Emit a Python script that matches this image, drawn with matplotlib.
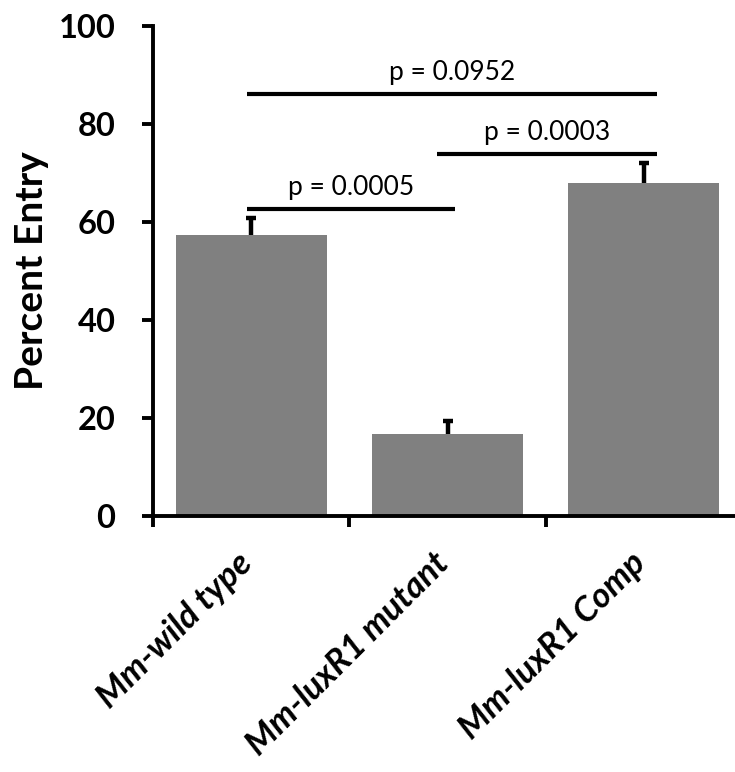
import matplotlib
matplotlib.use("Agg")
import matplotlib.pyplot as plt
from matplotlib.ticker import FixedLocator, NullFormatter
from matplotlib.transforms import ScaledTranslation

plt.rcParams['font.family'] = ['Lato', 'DejaVu Sans']

categories = ["Mm-wild type", "Mm-luxR1 mutant", "Mm-luxR1 Comp"]
values = [57.3, 16.7, 68.0]
errors = [3.5, 2.7, 4.0]
y_ticks = [0, 20, 40, 60, 80, 100]

# significance brackets: (x start, x end, height, label)
bracket_x0 = [-0.02, 0.945, -0.02]
bracket_x1 = [1.037, 2.065, 2.065]
bracket_y = [62.7, 73.9, 86.1]
bracket_labels = ["p = 0.0005", "p = 0.0003", "p = 0.0952"]

W, H = 735, 772
fig = plt.figure(figsize=(W / 100, H / 100), dpi=100)
ax = fig.add_axes([153 / W, 1 - 516 / H, (742 - 153) / W, (516 - 26) / H])

x = list(range(len(categories)))
tops = [v + e for v, e in zip(values, errors)]
ax.bar(x, values, width=0.77, color="#808080", edgecolor="none", zorder=2)
# upper-only error bars with a single cap
ax.vlines(x, values, tops, colors="black", lw=3.2, zorder=3)
ax.plot(x, tops, linestyle="none", marker="_", markersize=7,
        markeredgewidth=3.2, color="black", zorder=3)

for x0, x1, yb, lab in zip(bracket_x0, bracket_x1, bracket_y, bracket_labels):
    ax.plot([x0, x1], [yb, yb], color="black", lw=3, solid_capstyle="butt",
            clip_on=False)
    ax.text((x0 + x1) / 2, yb + 1.8, lab, ha="center", va="bottom",
            fontsize=19)

ax.set_xlim(-0.5, 2.5)
ax.set_ylim(0, 100)
ax.spines["top"].set_visible(False)
ax.spines["right"].set_visible(False)
for s in ("left", "bottom"):
    ax.spines[s].set_linewidth(2.8)

ax.set_yticks(y_ticks)
ax.set_yticklabels([str(t) for t in y_ticks], fontsize=23.5, fontweight="bold")
ax.tick_params(axis="y", direction="out", length=8, width=2.8, pad=19)

# category boundaries carry the ticks, labels sit at the bar centres
ax.xaxis.set_major_locator(FixedLocator([-0.5, 0.5, 1.5]))
ax.xaxis.set_major_formatter(NullFormatter())
ax.xaxis.set_minor_locator(FixedLocator(x))
ax.set_xticklabels(categories, minor=True, rotation=45, ha="right",
                   rotation_mode="anchor", fontsize=25, fontweight="bold",
                   fontstyle="italic")
ax.tick_params(axis="x", which="major", direction="out", length=8, width=2.8)
ax.tick_params(axis="x", which="minor", length=0, pad=22)
shift = ScaledTranslation(-0.15, 0, fig.dpi_scale_trans)
for lab in ax.get_xticklabels(minor=True):
    lab.set_transform(lab.get_transform() + shift)

ax.set_ylabel("Percent Entry", fontsize=28, fontweight="bold", labelpad=7)

fig.savefig("out.png", dpi=100)
